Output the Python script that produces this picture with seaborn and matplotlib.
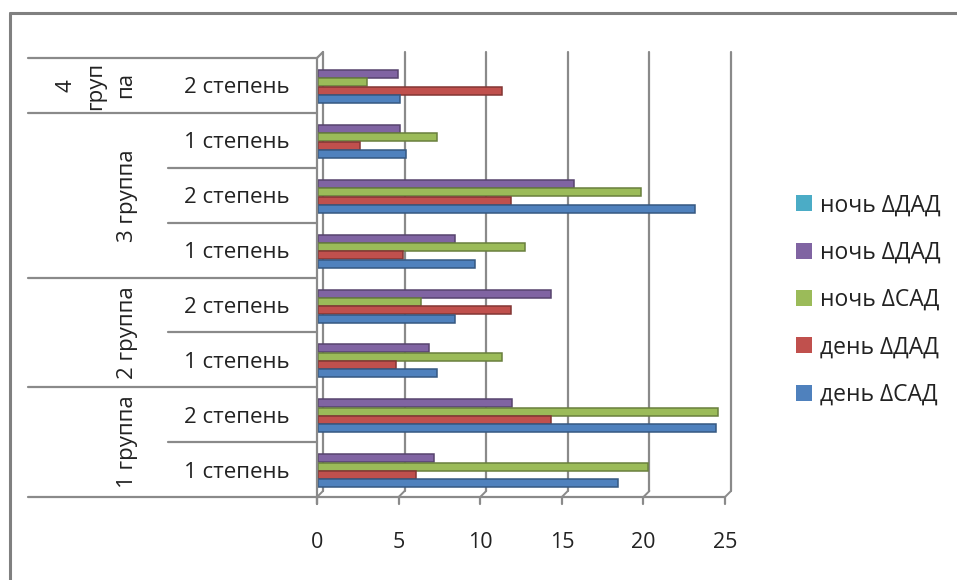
import numpy as np
import pandas as pd
import seaborn as sns
import matplotlib
matplotlib.use("Agg")
import matplotlib.pyplot as plt
from matplotlib import transforms as mtransforms
from matplotlib.lines import Line2D
from matplotlib.patches import Patch
from matplotlib.colors import to_rgb

# Rows from top to bottom of the chart
row_keys = ["g4_2", "g3_1a", "g3_2", "g3_1b", "g2_2", "g2_1", "g1_2", "g1_1"]
row_labels = ["2 степень", "1 степень", "2 степень", "1 степень",
              "2 степень", "1 степень", "2 степень", "1 степень"]

# Series values (same row order)
day_sad = [5.0, 5.4, 23.1, 9.6, 8.4, 7.3, 24.4, 18.4]
day_dad = [11.3, 2.6, 11.8, 5.2, 11.8, 4.8, 14.3, 6.0]
night_sad = [3.0, 7.3, 19.8, 12.7, 6.3, 11.3, 24.5, 20.2]
night_dad = [4.9, 5.0, 15.7, 8.4, 14.3, 6.8, 11.9, 7.1]
night_dad_extra = [0, 0, 0, 0, 0, 0, 0, 0]

series_keys = ["s1", "s2", "s3", "s4", "s5"]
series_names = ["день ΔСАД", "день ΔДАД", "ночь ΔСАД", "ночь ΔДАД", "ночь ΔДАД"]
series_colors = ["#4F81BD", "#C0504D", "#9BBB59", "#8064A2", "#4BACC6"]
series_values = [day_sad, day_dad, night_sad, night_dad, night_dad_extra]

group_labels = ["4\nгруп\nпа", "3 группа", "2 группа", "1 группа"]
group_centers = [0.0, 2.0, 4.5, 6.5]
x_ticks = [0, 5, 10, 15, 20, 25]

df = pd.DataFrame({
    "row": np.repeat([row_keys], len(series_keys), axis=0).ravel(),
    "series": np.repeat(series_keys, len(row_keys)),
    "value": np.concatenate(series_values),
})

sns.set_theme(style="white")
plt.rcParams["font.family"] = ["Open Sans", "DejaVu Sans"]

W, H = 957, 580
fig = plt.figure(figsize=(W / 100, H / 100), dpi=100)
fig.patch.set_facecolor("white")

# front plane of the plot area, in pixels
x0_px, x25_px, top_px, bot_px = 317, 725, 58, 497
ax = fig.add_axes([x0_px / W, 1 - bot_px / H, (x25_px - x0_px) / W, (bot_px - top_px) / H])
ax.set_facecolor("none")

hue_order = ["s5", "s4", "s3", "s2", "s1"]  # top to bottom inside a row
palette = dict(zip(series_keys, series_colors))
sns.barplot(data=df, x="value", y="row", hue="series", order=row_keys,
            hue_order=hue_order, palette=palette, orient="h", width=0.76,
            gap=0.04, saturation=1, legend=False, ax=ax, zorder=3)

# bars sit slightly towards the back wall
lift = mtransforms.offset_copy(ax.transData, fig=fig, x=1, y=3, units="dots")
for cont, key in zip(ax.containers, hue_order):
    base = np.array(to_rgb(palette[key]))
    for p in cont.patches:
        if p.get_width() == 0:
            p.set_visible(False)
        p.set_transform(lift)
        p.set_edgecolor(tuple(base * 0.68))
        p.set_linewidth(1.1)

ax.set_xlim(0, 25)
ax.set_ylim(7.5, -0.5)
for s in ax.spines.values():
    s.set_visible(False)
ax.set_xlabel("")
ax.set_ylabel("")
ax.set_xticks(x_ticks)
ax.set_xticklabels([str(t) for t in x_ticks], fontsize=15.5, color="#222222")
ax.tick_params(axis="x", length=0, pad=25)
ax.set_yticks(range(len(row_keys)))
ax.set_yticklabels(row_labels, fontsize=16, color="#222222")
ax.tick_params(axis="y", length=0, pad=20)

grey = "#8a8a8a"
dpx = 6  # wall depth in pixels
back = mtransforms.offset_copy(
    mtransforms.blended_transform_factory(ax.transData, ax.transAxes),
    fig=fig, x=dpx, y=dpx, units="dots")
front = mtransforms.blended_transform_factory(ax.transData, ax.transAxes)
tick_down = mtransforms.offset_copy(front, fig=fig, x=0, y=-7, units="dots")

# back wall grid lines
for t in x_ticks:
    ax.add_line(Line2D([t, t], [0, 1], transform=back, color=grey, lw=1.6,
                       zorder=1, clip_on=False))
# floor: front edge, ticks and depth slants
ax.add_line(Line2D([0, 25], [0, 0], transform=front, color=grey, lw=1.6, clip_on=False, zorder=1))
for t in x_ticks:
    p_back = back.transform((t, 0))
    p_down = tick_down.transform((t, 0))
    p_front = front.transform((t, 0))
    fig.add_artist(Line2D([p_down[0] / W, p_front[0] / W],
                          [p_down[1] / H, p_front[1] / H], transform=fig.transFigure,
                          color=grey, lw=1.6))
    fig.add_artist(Line2D([p_front[0] / W, p_back[0] / W],
                          [p_front[1] / H, p_back[1] / H], transform=fig.transFigure,
                          color=grey, lw=1.4))
# left walls
pf_top = front.transform((0, 1)); pb_top = back.transform((0, 1))
pf_bot = tick_down.transform((0, 0))
fig.add_artist(Line2D([pf_top[0] / W, pf_bot[0] / W], [pf_top[1] / H, pf_bot[1] / H],
                      transform=fig.transFigure, color=grey, lw=1.6))
fig.add_artist(Line2D([pf_top[0] / W, pb_top[0] / W], [pf_top[1] / H, pb_top[1] / H],
                      transform=fig.transFigure, color=grey, lw=1.6))

# category table lines on the left
left_tr = mtransforms.blended_transform_factory(fig.transFigure, ax.transData)
long_lines = [-0.5, 0.5, 3.5, 5.5, 7.5]
short_lines = [1.5, 2.5, 4.5, 6.5]
for yv in long_lines:
    ax.add_line(Line2D([28 / W, x0_px / W], [yv, yv], transform=left_tr, color=grey,
                       lw=1.6, clip_on=False))
for yv in short_lines:
    ax.add_line(Line2D([168 / W, x0_px / W], [yv, yv], transform=left_tr, color=grey,
                       lw=1.6, clip_on=False))

# group labels
for lab, yc in zip(group_labels, group_centers):
    xc = 96 if "\n" in lab else 128
    ax.text(xc / W, yc, lab, transform=left_tr, rotation=90, ha="center", va="center",
            fontsize=16, color="#222222", linespacing=1.55, multialignment="center")

# legend
handles = [Patch(facecolor=c, edgecolor="none") for c in series_colors[::-1]]
fig.legend(handles, series_names[::-1], loc="center left",
           bbox_to_anchor=(796 / W, 1 - 300 / H), frameon=False, fontsize=16.5,
           labelspacing=1.02, handlelength=0.7, handleheight=0.7,
           handletextpad=0.35, borderpad=0, borderaxespad=0, labelcolor="#222222")

# chart area border (top and left edges)
fig.add_artist(Line2D([10 / W, 10 / W], [0, 1 - 13 / H], transform=fig.transFigure,
                      color="#808080", lw=2.2))
fig.add_artist(Line2D([10 / W, 1], [1 - 13 / H, 1 - 13 / H], transform=fig.transFigure,
                      color="#808080", lw=2.2))

fig.savefig("out.png", dpi=100, facecolor="white")
